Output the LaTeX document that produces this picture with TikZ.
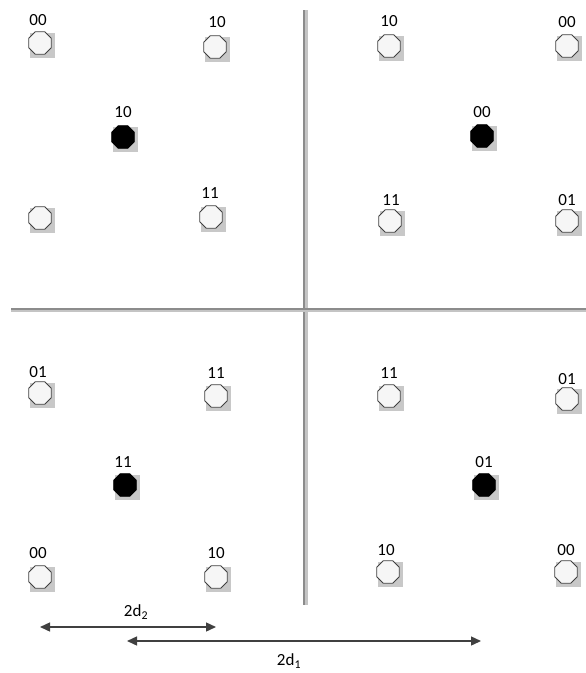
\documentclass[tikz,border=0pt]{standalone}
\usepackage{fontspec}
\setmainfont{Carlito}
\usetikzlibrary{arrows.meta,shapes.geometric}
\definecolor{shadowgrey}{HTML}{C8C8C8}
\definecolor{octline}{HTML}{404040}
\definecolor{octfill}{HTML}{F6F6F6}
\definecolor{axisdark}{HTML}{8C8C8C}
\definecolor{axislight}{HTML}{C4C4C4}
\definecolor{arrowgrey}{HTML}{404040}
\tikzset{
  pt/.style={regular polygon, regular polygon sides=8, minimum size=24.5pt, inner sep=0pt,
    draw=octline, line width=0.8pt, fill=octfill},
  ptfill/.style={pt, fill=black, draw=black},
  lbl/.style={font=\fontsize{17}{17}\selectfont, inner sep=0pt},
  dimarrow/.style={draw=arrowgrey, line width=1.4pt, {Triangle[length=10pt,width=9pt]}-{Triangle[length=10pt,width=9pt]}},
}
\newcommand{\octpt}[4]{% name, x, y, style
  \fill[shadowgrey] (#2-10,#3-10) rectangle (#2+15,#3+15);
  \node[#4] (#1) at (#2,#3) {};
}
\begin{document}
\begin{tikzpicture}[x=1pt,y=-1pt]
\useasboundingbox (0,0) rectangle (586,673);
\fill[white] (0,0) rectangle (586,673);
% axes
\fill[axislight] (304,10) rectangle (308,605);
\fill[axisdark] (303,10) rectangle (305,605);
\fill[axislight] (11,309) rectangle (586,312);
\fill[axisdark] (11,308) rectangle (586,310);
% top-left
\octpt{a1}{40}{43}{pt}
\octpt{a2}{215}{47}{pt}
\octpt{a3}{123}{137}{ptfill}
\octpt{a4}{40}{218}{pt}
\octpt{a5}{211}{217}{pt}
% top-right
\octpt{b1}{389}{46}{pt}
\octpt{b2}{567}{46}{pt}
\octpt{b3}{482}{136}{ptfill}
\octpt{b4}{390}{221}{pt}
\octpt{b5}{567}{221}{pt}
% bottom-left
\octpt{c1}{40}{393}{pt}
\octpt{c2}{216}{396}{pt}
\octpt{c3}{125}{485}{ptfill}
\octpt{c4}{40}{577}{pt}
\octpt{c5}{216}{577}{pt}
% bottom-right
\octpt{d1}{389}{396}{pt}
\octpt{d2}{567}{399}{pt}
\octpt{d3}{484}{485}{ptfill}
\octpt{d4}{388}{572}{pt}
\octpt{d5}{566}{572}{pt}
% labels
\node[lbl] (la1) at (38,20) {00};
\node[lbl] (la2) at (217,22) {10};
\node[lbl] (la3) at (123,112) {10};
\node[lbl] (la5) at (210,193) {11};
\node[lbl] (lb1) at (389,21) {10};
\node[lbl] (lb2) at (567,22) {00};
\node[lbl] (lb3) at (482,112) {00};
\node[lbl] (lb4) at (391,200) {11};
\node[lbl] (lb5) at (567,200) {01};
\node[lbl] (lc1) at (38,372) {01};
\node[lbl] (lc2) at (216,373) {11};
\node[lbl] (lc3) at (123,462) {11};
\node[lbl] (lc4) at (38,553) {00};
\node[lbl] (lc5) at (216,553) {10};
\node[lbl] (ld1) at (389,373) {11};
\node[lbl] (ld2) at (567,379) {01};
\node[lbl] (ld3) at (484,462) {01};
\node[lbl] (ld4) at (386,550) {10};
\node[lbl] (ld5) at (566,550) {00};
% dimension arrows
\coordinate (d2l) at (40,627);
\coordinate (d2r) at (216,627);
\coordinate (d1l) at (127,641);
\coordinate (d1r) at (481,641);
\draw[dimarrow] (d2l) -- (d2r);
\draw[dimarrow] (d1l) -- (d1r);
\node[lbl] (t2) at (136,612) {2d\textsubscript{2}};
\node[lbl] (t1) at (289,661) {2d\textsubscript{1}};
\end{tikzpicture}
\end{document}
